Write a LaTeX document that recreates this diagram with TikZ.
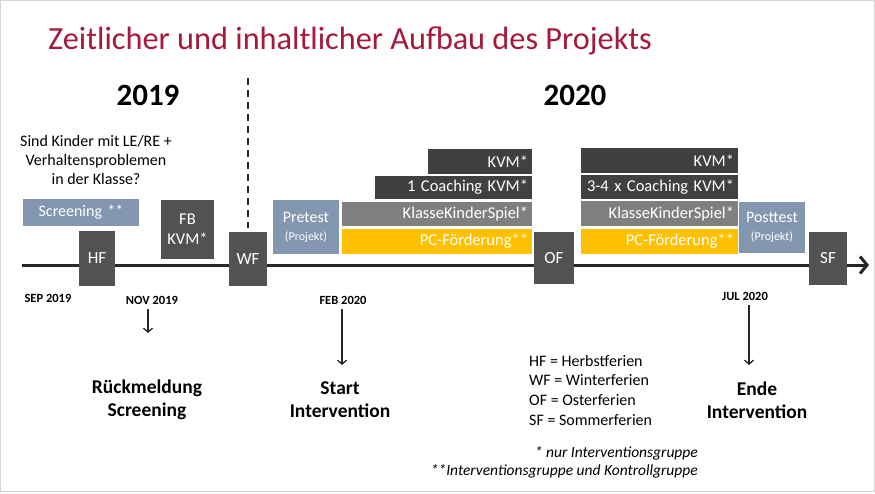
\documentclass[tikz,border=0pt]{standalone}
\usepackage{fontspec}
\setmainfont{Carlito}
\usetikzlibrary{arrows.meta}
\definecolor{titlered}{HTML}{A6193C}
\definecolor{darkbox}{HTML}{404040}
\definecolor{ferien}{HTML}{525252}
\definecolor{bluegray}{HTML}{8497B0}
\definecolor{midgray}{HTML}{7F7F7F}
\definecolor{pcorange}{HTML}{FFC000}
\definecolor{lineblack}{HTML}{262626}
\definecolor{framegray}{HTML}{D6D6D6}
\newcommand\tlbox[7]{%
  \pgfmathsetmacro\tlw{(#4)-(#2)}%
  \pgfmathsetmacro\tlh{(#5)-(#3)}%
  \pgfmathsetmacro\tlt{(#4)-(#2)-8}%
  \node[#6, minimum width=\tlw pt, minimum height=\tlh pt, text width=\tlt pt]
    (#1) at ({((#2)+(#4))/2},{((#3)+(#5))/2}) {#7};}
\tikzset{
  basebox/.style={inner sep=0pt, text=white, draw=none},
  ferienbox/.style={basebox, fill=ferien, align=center, font=\fontsize{17}{20}\selectfont},
  bluebox/.style={basebox, fill=bluegray, align=center, font=\fontsize{16}{19}\selectfont},
  kvmbar/.style={basebox, fill=darkbox, align=right, font=\fontsize{16.5}{19}\selectfont},
  kksbar/.style={basebox, fill=midgray, align=right, font=\fontsize{16.5}{19}\selectfont},
  pcbar/.style={basebox, fill=pcorange, align=right, font=\fontsize{16.5}{19}\selectfont},
  yearlbl/.style={inner sep=0pt, font=\fontsize{31}{36}\selectfont\bfseries, text=black},
  datelbl/.style={inner sep=0pt, font=\fontsize{12.5}{15}\selectfont\bfseries, text=black},
  biglbl/.style={inner sep=0pt, align=center, font=\fontsize{19.5}{23}\selectfont\bfseries, text=black},
  plaintxt/.style={inner sep=0pt, font=\fontsize{16}{19}\selectfont, text=black},
  notetxt/.style={inner sep=0pt, font=\fontsize{15.5}{18}\selectfont\itshape, text=black},
  arr/.style={line width=1.3pt, draw=lineblack, -{Straight Barb[length=4pt,width=9pt]}},
}
\begin{document}
\begin{tikzpicture}[x=1pt, y=-1pt]
\useasboundingbox (0,0) rectangle (875,493);
\fill[white] (0,0) rectangle (875,493);
\draw[framegray, line width=1.2pt] (0.6,0.6) rectangle (874.4,491.4);

% title
\node[anchor=base west, inner sep=0pt, font=\fontsize{32.3}{38}\selectfont, text=titlered]
  (title) at (48,49) {Zeitlicher und inhaltlicher Aufbau des Projekts};

% years
\node[yearlbl] (y2019) at (148,95) {2019};
\node[yearlbl] (y2020) at (575,95) {2020};

% question
\node[plaintxt, align=center] (question) at (96,160)
  {Sind Kinder mit LE/RE +\\Verhaltensproblemen\\in der Klasse?};

% timeline
\coordinate (tlstart) at (22,265);
\coordinate (tlend) at (869,265);
\draw[line width=3pt, lineblack, -{Straight Barb[length=7pt,width=17pt]}] (tlstart) -- (tlend);

% boxes
\tlbox{screen}{23}{199}{139}{226}{bluebox}{Screening **}
\tlbox{hf}{79}{231}{115}{286}{ferienbox}{HF}
\tlbox{fb}{161}{200}{214}{259}{ferienbox, font=\fontsize{16.5}{20}\selectfont}{FB\\KVM*}
\tlbox{wf}{229}{232}{267}{286}{ferienbox}{WF}
\tlbox{pre}{273}{200}{339}{254}{bluebox}{Pretest\\[-1pt]{\fontsize{12}{14}\selectfont(Projekt)}}
\tlbox{kvma}{428}{149}{532}{174}{kvmbar}{KVM*}
\tlbox{coa}{375}{176}{532}{199}{kvmbar}{1 Coaching KVM*}
\tlbox{kksa}{342}{202}{532}{226}{kksbar}{KlasseKinderSpiel*}
\tlbox{pca}{342}{229}{532}{254}{pcbar}{PC-Förderung**}
\tlbox{of}{534}{232}{574}{284}{ferienbox}{OF}
\tlbox{kvmb}{581}{148}{738}{173}{kvmbar}{KVM*}
\tlbox{cob}{581}{175}{738}{199}{kvmbar}{3-4 x Coaching KVM*}
\tlbox{kksb}{581}{201}{738}{226}{kksbar}{KlasseKinderSpiel*}
\tlbox{pcb}{581}{229}{738}{254}{pcbar}{PC-Förderung**}
\tlbox{post}{739}{202}{805}{253}{bluebox}{Posttest\\[-1pt]{\fontsize{12}{14}\selectfont(Projekt)}}
\tlbox{sf}{809}{232}{847}{285}{ferienbox}{SF}

% dashed separator
\coordinate (dashtop) at (248,78);
\draw[lineblack, line width=1.6pt, dash pattern=on 7pt off 5pt] (dashtop) -- ([yshift=4pt]wf.north);

% dates
\node[datelbl] (sep) at (48,298) {SEP 2019};
\node[datelbl] (nov) at (152,300) {NOV 2019};
\node[datelbl] (feb) at (343,300) {FEB 2020};
\node[datelbl] (jul) at (745,296) {JUL 2020};

% milestone labels
\node[biglbl] (rueck) at (147,400) {Rückmeldung\\Screening};
\node[biglbl] (start) at (340,400) {Start\\Intervention};
\node[biglbl] (ende) at (757,400) {Ende\\Intervention};

% arrows
\coordinate (novB) at (148,333);
\coordinate (febB) at (342,365);
\coordinate (julB) at (749,365);
\draw[arr, shorten <=5pt] (nov.south -| novB) -- (novB);
\draw[arr, shorten <=5pt] (feb.south -| febB) -- (febB);
\draw[arr, shorten <=5pt] (jul.south -| julB) -- (julB);

% legend
\node[plaintxt, align=left, anchor=north west, font=\fontsize{16}{19.6}\selectfont] (legend) at (529,355)
  {HF = Herbstferien\\WF = Winterferien\\OF = Osterferien\\SF = Sommerferien};
\node[notetxt, anchor=base east] (note1) at (698,457) {* nur Interventionsgruppe};
\node[notetxt, anchor=base east] (note2) at (698,475) {**Interventionsgruppe und Kontrollgruppe};
\end{tikzpicture}
\end{document}
